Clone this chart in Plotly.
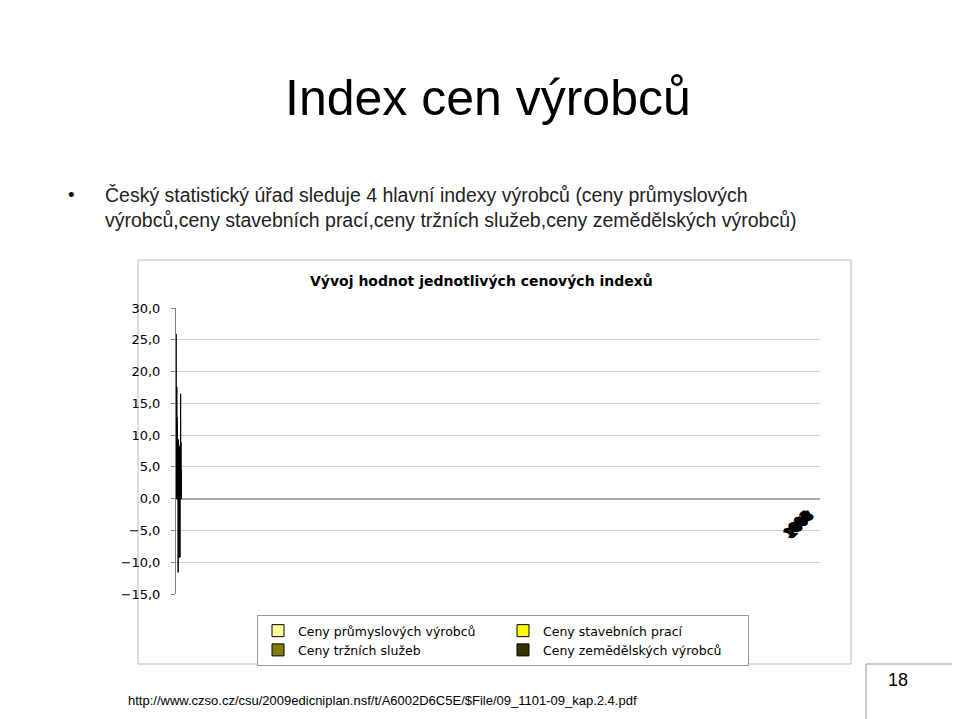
import plotly.graph_objects as go

years = [str(y) for y in range(1993, 2009)]
prumysl = [9.3, 5.4, 7.7, 4.9, 4.9, 4.9, 1.2, 4.9, 3.0, -0.3, -0.2, 5.9, 3.0, 1.8, 4.2, 4.6]
stavebni = [25.9, 14.0, 10.7, 11.4, 11.4, 9.3, 4.9, 4.2, 4.2, 2.7, 2.3, 3.9, 3.0, 3.0, 4.2, 4.6]
trzni = [None, None, 17.6, 12.8, 11.0, 8.9, 4.2, 3.5, 4.0, 3.3, 1.8, 2.4, -0.2, 3.3, 1.8, 3.9]
zemedel = [8.5, 4.8, 7.8, 8.4, 3.0, 2.4, -11.6, 9.3, 8.5, -9.3, -2.8, 8.2, -9.2, 1.2, 16.5, 8.9]
names = ["Ceny průmyslových výrobců", "Ceny stavebních prací", "Ceny tržních služeb", "Ceny zemědělských výrobců"]
colors = ["#FFFF99", "#FFFF00", "#808000", "#333300"]
yticks = [-15, -10, -5, 0, 5, 10, 15, 20, 25, 30]

W, H = 960, 719
L, R, T, B = 168, 812, 300, 586
def px(x): return (x - L) / (R - L)
def py(y): return (B - y) / (B - T)

fig = go.Figure()
for vals, n, c in zip([prumysl, stavebni, trzni, zemedel], names, colors):
    fig.add_bar(x=years, y=vals, name=n, marker=dict(color=c, line=dict(color="black", width=1)))

ann = []
for yr in years:
    ann.append(dict(x=yr, y=0, xref="x", yref="y", text=yr, showarrow=False, textangle=-45,
                    xanchor="center", yanchor="top", yshift=-6, xshift=-4,
                    font=dict(family="Liberation Sans", size=14, color="black")))
def t(x, y, text, size, family="Liberation Sans", xa="center", color="black"):
    return dict(x=px(x), y=py(y), xref="paper", yref="paper", text=text, showarrow=False,
                xanchor=xa, yanchor="middle", align="left", font=dict(family=family, size=size, color=color))
ann += [
    t(480, 90, "Index cen výrobců", 50),
    t(58, 186, "•", 19, xa="left"),
    t(95, 199, "Český statistický úřad sleduje 4 hlavní indexy výrobců (ceny průmyslových<br>výrobců,ceny stavebních prací,ceny tržních služeb,ceny zemědělských výrobců)", 19.5, xa="left", color="#222"),
    t(473, 273, "<b>Vývoj hodnot jednotlivých cenových indexů</b>", 14, family="DejaVu Sans"),
    t(118, 692, "http://www.czso.cz/csu/2009edicniplan.nsf/t/A6002D6C5E/$File/09_1101-09_kap.2.4.pdf", 13, xa="left"),
    t(890, 672, "18", 18),
]

shapes = [
    dict(type="rect", xref="paper", yref="paper", x0=px(130), x1=px(843), y0=py(252), y1=py(656),
         line=dict(color="#bbbbbb", width=1), layer="below"),
    dict(type="line", xref="paper", yref="paper", x0=px(858), x1=px(960), y0=py(656), y1=py(656),
         line=dict(color="#999999", width=1)),
    dict(type="line", xref="paper", yref="paper", x0=px(858), x1=px(858), y0=py(656), y1=py(719),
         line=dict(color="#999999", width=1)),
]

fig.update_layout(
    width=W, height=H, margin=dict(l=L, r=W - R, t=T, b=H - B),
    paper_bgcolor="white", plot_bgcolor="white", separators=", ",
    barmode="group", bargap=0.2, bargroupgap=0,
    annotations=ann, shapes=shapes,
    legend=dict(orientation="h", x=px(249), y=py(607), xanchor="left", yanchor="top",
                entrywidth=200, bordercolor="#999999", borderwidth=1, traceorder="normal",
                itemwidth=30, tracegroupgap=0,
                font=dict(family="DejaVu Sans", size=12.5, color="black")),
    xaxis=dict(type="category", showticklabels=False, showgrid=False, zeroline=False, showline=False),
    yaxis=dict(range=[-15, 30], tickvals=yticks, tickformat=".1f", showgrid=True, gridcolor="#d0d0d0",
               zeroline=True, zerolinecolor="#aaaaaa", showline=True, linecolor="#808080",
               ticks="outside", ticklen=4, tickcolor="#808080", ticklabelstandoff=8,
               tickfont=dict(family="DejaVu Sans", size=13, color="black")),
)
fig.write_html("out.html")
